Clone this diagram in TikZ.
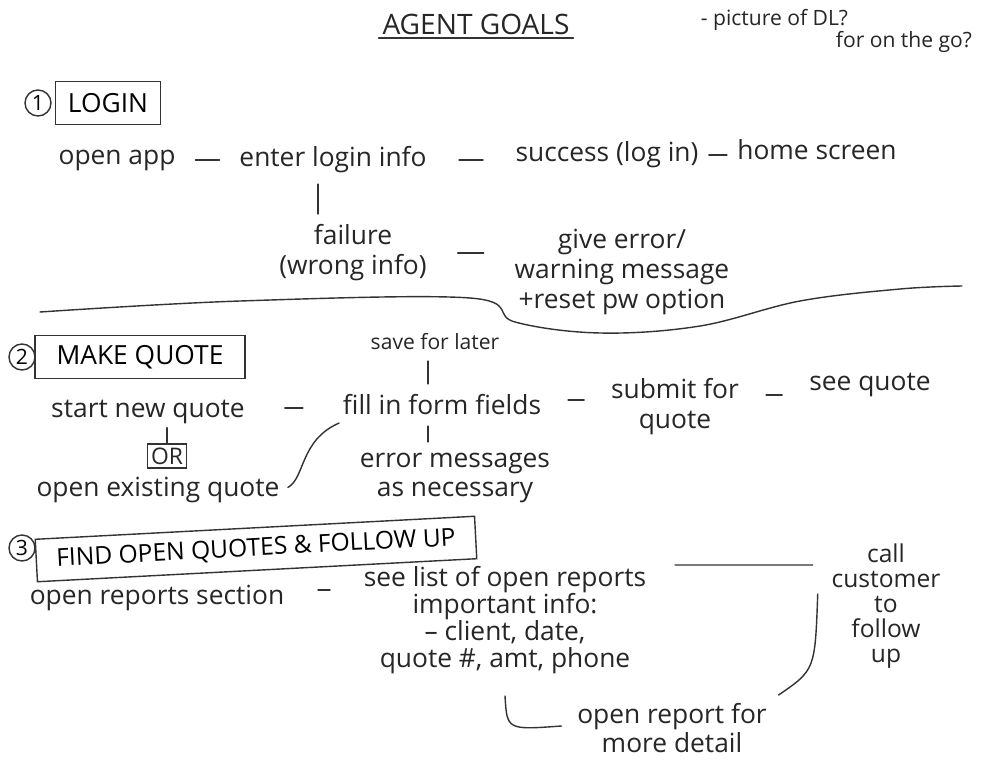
\documentclass[tikz,border=0pt]{standalone}
\usepackage{fontspec}
\setmainfont{Open Sans}
\usetikzlibrary{calc,shapes}

\begin{document}
\begin{tikzpicture}[x=0.02cm,y=-0.02cm,
  txt/.style={font=\fontsize{15}{17}\selectfont, inner sep=2pt, text=black!85},
  small/.style={font=\fontsize{12}{14}\selectfont, inner sep=2pt, text=black!85},
  head/.style={draw=black!80, line width=0.8pt, font=\fontsize{15}{17}\selectfont, inner sep=4pt, minimum height=0.85cm},
  num/.style={draw=black!80, circle, line width=0.8pt, minimum size=0.52cm, inner sep=0pt, font=\fontsize{12}{14}\selectfont},
  link/.style={draw=black!80, line width=0.8pt, line cap=round}]
\fill[white] (0,0) rectangle (994,764);
\useasboundingbox (0,0) rectangle (994,764);

% title and notes
\node[txt, font=\fontsize{16}{18}\selectfont] (title) at (476,24) {AGENT GOALS};
\draw[link] (title.south west) -- (title.south east);
\node[small, anchor=west] (note1) at (697,20) {- picture of DL?};
\node[small, anchor=west] (note2) at (832,42) {for on the go?};

% 1 login
\node[num] (n1) at (38,103) {1};
\node[head, minimum width=2.1cm] (login) at (108,103) {LOGIN};
\node[txt] (open) at (117,160) {open app};
\node[txt] (enter) at (333,160) {enter login info};
\node[txt] (success) at (607,155) {success (log in)};
\node[txt] (home) at (817,150) {home screen};
\node[txt, align=center] (failure) at (353,253) {failure\\(wrong info)};
\node[txt, align=center] (give) at (622,272) {give error/\\warning message\\+reset pw option};
\coordinate (c1) at (318,0);
\draw[link] ($(open.east)!.5!(enter.west)+(-12,0)$) -- ++(24,0);
\draw[link] ($(enter.east)!.5!(success.west |- enter.east)+(-12,0)$) -- ++(24,0);
\draw[link] ($(success.east)!.5!(home.west |- success.east)+(-9,0)$) -- ++(18,0);
\draw[link, shorten <=4pt, shorten >=4pt] (enter.south -| c1) -- (failure.north -| c1);
\draw[link] ($(failure.east)!.5!(give.west |- failure.east)+(-13,0)$) -- ++(26,0);

% separator
\draw[link] plot[smooth, tension=0.6] coordinates {(40,312) (240,301) (470,298) (515,322) (600,333) (700,326) (800,301) (900,289) (962,286)};

% 2 make quote
\node[num] (n2) at (22,357) {2};
\node[head, minimum width=4.2cm] (quote) at (140,357) {MAKE QUOTE};
\node[small] (save) at (435,342) {save for later};
\node[txt] (start) at (148,412) {start new quote};
\node[txt, draw=black!80, line width=0.8pt, font=\fontsize{13}{15}\selectfont] (or) at (167,456) {OR};
\node[txt] (exist) at (158,490) {open existing quote};
\node[txt] (fill) at (442,405) {fill in form fields};
\node[txt, align=center] (submit) at (675,407) {submit for\\quote};
\node[txt] (see) at (870,385) {see quote};
\node[txt, align=center] (errmsg) at (455,478) {error messages\\as necessary};
\coordinate (c2) at (428,0);
\draw[link] ($(start.east)!.5!(fill.west |- start.east)+(-9,-4)$) -- ++(18,0);
\draw[link] ($(fill.east)!.5!(submit.west |- fill.east)+(-8,-5)$) -- ++(16,0);
\draw[link] ($(submit.east |- see.west)!.5!(see.west)+(-8,10)$) -- ++(16,0);
\draw[link] (start.south -| or) -- (or.north);
\draw[link, shorten <=4pt, shorten >=4pt] (save.south -| c2) -- (fill.north -| c2);
\draw[link, shorten <=4pt, shorten >=4pt] (fill.south -| c2) -- (errmsg.north -| c2);
\draw[link, shorten <=3pt] (exist.east) .. controls (305,478) and (300,440) .. ($(fill.south west)+(0,4)$);

% 3 find open quotes
\node[num] (n3) at (22,548) {3};
\node[head, minimum width=8.8cm, rotate=3, font=\fontsize{14}{16}\selectfont] (follow) at (256,549) {FIND OPEN QUOTES \& FOLLOW UP};
\node[txt] (reports) at (157,598) {open reports section};
\node[txt, align=center, font=\fontsize{15}{15.5}\selectfont] (list) at (505,620) {see list of open reports\\important info:\\-- client, date,\\quote \#, amt, phone};
\node[txt, align=center, font=\fontsize{14}{14.2}\selectfont] (call) at (886,606) {call\\customer\\to\\follow\\up};
\node[txt, align=center] (detail) at (672,728) {open report for\\more detail};
\draw[link] ($(reports.east)!.5!(list.west |- reports.east)+(-6,-8)$) -- ++(12,0);
\draw[link] ($(list.north east)+(25,3)$) .. controls (730,565) .. ($(call.west |- list.north east)+(-15,3)$);
\draw[link] ($(call.west)+(-10,-12)$) .. controls (815,670) .. ($(detail.north east)+(8,-4)$);
\draw[link] ($(list.south)+(0,18)$) .. controls ($(list.south)+(2,52)$) .. ($(detail.west)+(-12,-2)$);
\end{tikzpicture}
\end{document}
